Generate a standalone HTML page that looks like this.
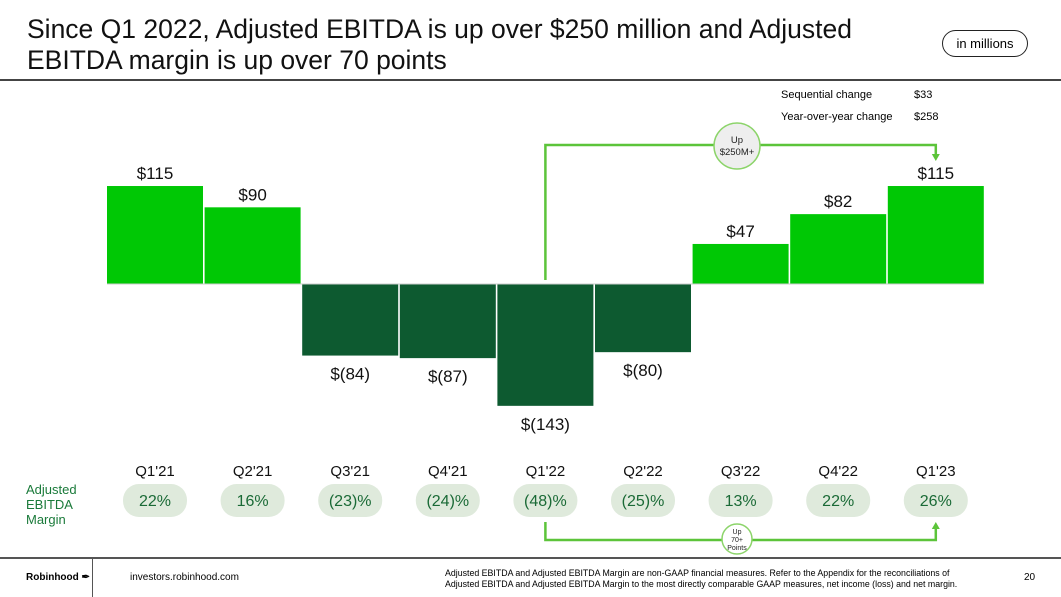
<!DOCTYPE html>
<html><head><meta charset="utf-8"><style>
body{margin:0;width:1061px;height:597px;background:#fff;font-family:"Liberation Sans",sans-serif;position:relative;overflow:hidden}
.t{position:absolute;white-space:nowrap}
</style></head><body>
<div class="t" style="left:27px;top:14px;font-size:26.5px;line-height:31px;color:#111">Since Q1 2022, Adjusted EBITDA is up over $250 million and Adjusted<br>EBITDA margin is up over 70 points</div>
<div class="t" style="left:942px;top:30px;width:84px;height:25px;border:1.5px solid #222;border-radius:14px;font-size:13px;line-height:25px;text-align:center">in millions</div>
<div style="position:absolute;left:0;top:79px;width:1061px;height:2px;background:#444"></div>
<div class="t" style="left:781px;top:89px;font-size:11px">Sequential change</div>
<div class="t" style="left:914px;top:89px;font-size:11px">$33</div>
<div class="t" style="left:781px;top:111px;font-size:11px">Year-over-year change</div>
<div class="t" style="left:914px;top:111px;font-size:11px">$258</div>
<svg id="chart" width="1061" height="597" style="position:absolute;left:0;top:0"></svg>
<div class="t" style="left:26px;top:482px;font-size:13px;line-height:15px;color:#1a7a3a">Adjusted<br>EBITDA<br>Margin</div>
<div style="position:absolute;left:0;top:557px;width:1061px;height:1.5px;background:#555"></div>
<div style="position:absolute;left:92px;top:558px;width:1px;height:39px;background:#555"></div>
<div class="t" style="left:26px;top:572px;font-size:10px;font-weight:bold">Robinhood ✒</div>
<div class="t" style="left:130px;top:572px;font-size:10px">investors.robinhood.com</div>
<div class="t" style="left:445px;top:568px;font-size:8.8px;line-height:11px">Adjusted EBITDA and Adjusted EBITDA Margin are non-GAAP financial measures. Refer to the Appendix for the reconciliations of<br>Adjusted EBITDA and Adjusted EBITDA Margin to the most directly comparable GAAP measures, net income (loss) and net margin.</div>
<div class="t" style="left:1024px;top:572px;font-size:10px">20</div>
<script>
const categories=["Q1'21","Q2'21","Q3'21","Q4'21","Q1'22","Q2'22","Q3'22","Q4'22","Q1'23"];
const ebitda=[115,90,-84,-87,-143,-80,47,82,115];
const margins=[22,16,-23,-24,-48,-25,13,22,26];
const NS="http://www.w3.org/2000/svg";
const svg=document.getElementById('chart');
const x0=107,step=97.6,bw=96,zeroY=284,ppu=0.852;
const xc=i=>x0+i*step+bw/2;
const y=v=>zeroY-v*ppu;
function mk(tag,attrs){const e=document.createElementNS(NS,tag);for(const k in attrs)e.setAttribute(k,attrs[k]);svg.appendChild(e);return e;}
const fmt=v=>v<0?'$('+(-v)+')':'$'+v;
const pf=v=>v<0?'('+(-v)+')%':v+'%';
ebitda.forEach((v,i)=>{
 const r=mk('rect',{x:x0+i*step,y:Math.min(y(v),zeroY),width:bw,height:Math.abs(v)*ppu,fill:v>=0?'#00c805':'#0d5a30'});
 
 
 const t=mk('text',{x:xc(i),y:v>=0?y(v)-7:y(v)+24,'text-anchor':'middle','font-size':17,fill:'#111','font-family':'Liberation Sans'});
 t.textContent=fmt(v);
 
 
 const q=mk('text',{x:xc(i),y:476,'text-anchor':'middle','font-size':15,fill:'#111','font-family':'Liberation Sans'});
 q.textContent=categories[i];
 
 
 const p=mk('rect',{x:xc(i)-32,y:484,width:64,height:33,rx:16,fill:'#dfeadc'});
 
 
 const pt=mk('text',{x:xc(i),y:506,'text-anchor':'middle','font-size':16,fill:'#1a6a36','font-family':'Liberation Sans'});
 pt.textContent=pf(margins[i]);
 
 
});
const zl=mk('line',{x1:x0,x2:x0+8*step+bw,y1:zeroY,y2:zeroY,stroke:'#ccc','stroke-width':1});


const a1=mk('polyline',{points:`${xc(4)},280 ${xc(4)},145 ${xc(8)},145 ${xc(8)},156`,fill:'none',stroke:'#5cc43a','stroke-width':2.5});


mk('polygon',{points:`${xc(8)-4},154 ${xc(8)+4},154 ${xc(8)},161`,fill:'#5cc43a'});
const c1=mk('circle',{cx:737,cy:146,r:23,fill:'#eee',stroke:'#8cd46a','stroke-width':1.5});


[['Up',143],['$250M+',155]].forEach(([s,yy])=>{const t=mk('text',{x:737,y:yy,'text-anchor':'middle','font-size':9.5,fill:'#222','font-family':'Liberation Sans'});t.textContent=s;});
const a2=mk('polyline',{points:`${xc(4)},522 ${xc(4)},540 ${xc(8)},540 ${xc(8)},528`,fill:'none',stroke:'#5cc43a','stroke-width':2.5});


mk('polygon',{points:`${xc(8)-4},529 ${xc(8)+4},529 ${xc(8)},522`,fill:'#5cc43a'});
const c2=mk('circle',{cx:737,cy:539,r:15,fill:'#fff',stroke:'#8cd46a','stroke-width':1.5});


[['Up',534],['70+',542],['Points',550]].forEach(([s,yy])=>{const t=mk('text',{x:737,y:yy,'text-anchor':'middle','font-size':7,fill:'#222','font-family':'Liberation Sans'});t.textContent=s;});
</script>
</body></html>
